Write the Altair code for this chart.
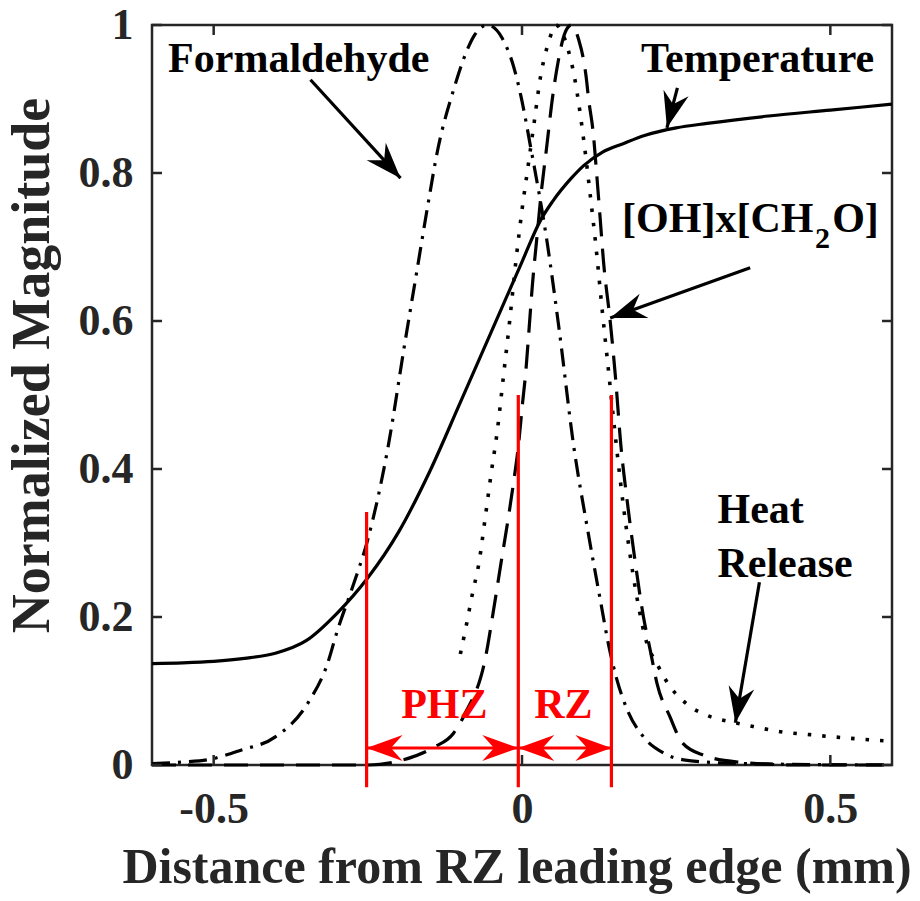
import math
import altair as alt
import pandas as pd

W, H = 740, 740
XDOM = [-0.6, 0.6]
YDOM = [0.0, 1.0]
FONT = "Liberation Serif"
AX = "#262626"

# ---------------- data ----------------
temp_x = [-0.6, -0.55, -0.5, -0.45, -0.4, -0.35, -0.3, -0.25, -0.2, -0.15, -0.1, -0.05,
          0.0, 0.03, 0.05, 0.08, 0.1, 0.13, 0.165, 0.2, 0.25, 0.3, 0.4, 0.5, 0.6]
temp_y = [0.137, 0.138, 0.140, 0.144, 0.151, 0.168, 0.205, 0.253, 0.315, 0.396, 0.49, 0.585,
          0.68, 0.736, 0.762, 0.793, 0.81, 0.828, 0.84, 0.851, 0.861, 0.867, 0.877, 0.885, 0.893]

form_x = [-0.6, -0.55, -0.51, -0.456, -0.4, -0.347, -0.315, -0.3, -0.275, -0.25, -0.218, -0.19,
          -0.17, -0.153, -0.137, -0.11, -0.091, -0.078, -0.056, -0.032, -0.014, -0.002, 0.014,
          0.041, 0.06, 0.084, 0.106, 0.127, 0.141, 0.154, 0.171, 0.197, 0.23, 0.262, 0.35, 0.6]
form_y = [0.002, 0.004, 0.007, 0.02, 0.038, 0.084, 0.138, 0.18, 0.24, 0.305, 0.426, 0.57,
          0.67, 0.755, 0.83, 0.915, 0.962, 0.985, 1.0, 0.982, 0.945, 0.905, 0.835,
          0.705, 0.59, 0.43, 0.32, 0.223, 0.16, 0.115, 0.074, 0.038, 0.016, 0.007, 0.002, 0.0]

heat_x = [-0.1, -0.09, -0.08, -0.07, -0.06, -0.05, -0.04, -0.03, -0.02, -0.01, 0.0, 0.01,
          0.02, 0.03, 0.04, 0.05, 0.055, 0.065, 0.075, 0.085, 0.09, 0.1, 0.11, 0.12, 0.13,
          0.14, 0.15, 0.16, 0.17, 0.18, 0.19, 0.2, 0.22, 0.24, 0.257, 0.276, 0.297, 0.346,
          0.375, 0.419, 0.467, 0.505, 0.549, 0.6]
heat_y = [0.15, 0.19, 0.233, 0.272, 0.332, 0.394, 0.452, 0.526, 0.60, 0.68, 0.75, 0.81,
          0.87, 0.93, 0.968, 0.993, 1.0, 0.99, 0.966, 0.93, 0.905, 0.845, 0.775, 0.70, 0.615,
          0.535, 0.455, 0.38, 0.315, 0.258, 0.21, 0.172, 0.135, 0.106, 0.09, 0.077, 0.068, 0.057,
          0.052, 0.045, 0.041, 0.038, 0.035, 0.032]

oh_x = [-0.6, -0.25, -0.192, -0.143, -0.111, -0.092, -0.059, -0.046, -0.035, -0.022, -0.014,
        -0.006, 0.001, 0.006, 0.011, 0.017, 0.025, 0.03, 0.04, 0.05, 0.057, 0.07, 0.08, 0.092,
        0.104, 0.108, 0.116, 0.12, 0.124, 0.127, 0.132, 0.143, 0.152, 0.16, 0.171, 0.181,
        0.197, 0.208, 0.219, 0.24, 0.26, 0.295, 0.35, 0.45, 0.6]
oh_y = [0.0, 0.0, 0.007, 0.024, 0.043, 0.07, 0.146, 0.21, 0.268, 0.335, 0.38,
        0.43, 0.49, 0.53, 0.584, 0.65, 0.72, 0.764, 0.835, 0.905, 0.943, 0.99, 1.0, 0.98,
        0.93, 0.9, 0.85, 0.81, 0.768, 0.736, 0.682, 0.6, 0.52, 0.435, 0.354, 0.29,
        0.2, 0.155, 0.11, 0.065, 0.03, 0.013, 0.004, 0.0, 0.0]

x_ticks = [-0.5, 0.0, 0.5]
y_ticks = [0.0, 0.2, 0.4, 0.6, 0.8, 1.0]

# zone boundaries (red lines)
zone_x = [-0.252, -0.006, 0.145]
zone_top = [0.342, 0.5, 0.5]
zone_bottom = -0.03
zone_arrow_y = 0.023
zone_names = ["PHZ", "RZ"]
zone_label_x = [-0.126, 0.067]
zone_label_y = 0.064

# black annotation arrows: start -> tip
arr_x0 = [-0.343, 0.252, 0.370, 0.385]
arr_y0 = [0.926, 0.915, 0.672, 0.247]
arr_x1 = [-0.197, 0.235, 0.143, 0.346]
arr_y1 = [0.793, 0.861, 0.604, 0.057]

# annotation texts
txt_center = ["Formaldehyde", "Temperature"]
txt_center_x = [-0.362, 0.382]
txt_center_y = [0.936, 0.936]
txt_left = ["Heat", "Release"]
txt_left_x = [0.317, 0.317]
txt_left_y = [0.327, 0.254]
oh_parts = ["[OH]x[CH", "2", "O]"]
oh_parts_x = [0.4725, 0.475, 0.503]
oh_parts_y = [0.720, 0.699, 0.720]

# ---------------- encodings ----------------
x_sc = alt.Scale(domain=XDOM, nice=False, zero=False)
y_sc = alt.Scale(domain=YDOM, nice=False, zero=False)

x_axis = alt.Axis(values=x_ticks, ticks=False, tickSize=0, domain=False, grid=False,
                  labelFont=FONT, labelFontWeight="bold", labelFontSize=44, labelColor=AX,
                  labelPadding=22, labelFlush=False, labelOverlap=False,
                  labelExpr="datum.value < 0 ? '-' + format(-datum.value, '~g') : format(datum.value, '~g')",
                  title="Distance from RZ leading edge (mm)", titleFont=FONT, titleFontSize=50,
                  titleFontWeight="bold", titleColor=AX, titleX=364.5, titleY=117,
                  titleAlign="center", titleBaseline="alphabetic")
y_axis = alt.Axis(values=y_ticks, ticks=False, tickSize=0, domain=False, grid=False,
                  labelFont=FONT, labelFontWeight="bold", labelFontSize=44, labelColor=AX,
                  labelPadding=19, labelFlush=False, labelOverlap=False,
                  labelExpr="format(datum.value, '~g')",
                  title="Normalized Magnitude", titleFont=FONT, titleFontSize=54,
                  titleFontWeight="bold", titleColor=AX, titleAngle=270, titleX=-120, titleY=340,
                  titleAlign="center", titleBaseline="middle")


def X(f="x"):
    return alt.X(f + ":Q", scale=x_sc, axis=x_axis)


def Y(f="y"):
    return alt.Y(f + ":Q", scale=y_sc, axis=y_axis)


def curve(xs, ys, dash=None, width=3.2):
    df = pd.DataFrame({"x": xs, "y": ys})
    kw = dict(color="black", strokeWidth=width, clip=False, interpolate="monotone")
    if dash:
        kw["strokeDash"] = dash
    return alt.Chart(df).mark_line(**kw).encode(x=X(), y=Y())


layers = []
layers.append(curve(temp_x, temp_y))
layers.append(curve(form_x, form_y, [18, 8, 3, 8]))
layers.append(curve(oh_x, oh_y, [24, 12]))
layers.append(curve(heat_x, heat_y, [3.5, 11], width=3.6))

# tick marks (inward) on all four sides
xt = pd.DataFrame({"x": x_ticks})
yt = pd.DataFrame({"y": y_ticks})
tick_kw = dict(color=AX, strokeWidth=2.5)
layers.append(alt.Chart(xt).mark_rule(**tick_kw).encode(x=X(), y=alt.value(H), y2=alt.value(H - 10)))
layers.append(alt.Chart(xt).mark_rule(**tick_kw).encode(x=X(), y=alt.value(0), y2=alt.value(10)))
layers.append(alt.Chart(yt).mark_rule(**tick_kw).encode(y=Y(), x=alt.value(0), x2=alt.value(10)))
layers.append(alt.Chart(yt).mark_rule(**tick_kw).encode(y=Y(), x=alt.value(W), x2=alt.value(W - 10)))

# red zone lines
zl = pd.DataFrame({"x": zone_x, "y": [zone_bottom] * 3, "y2": zone_top})
layers.append(alt.Chart(zl).mark_rule(color="#ff0000", strokeWidth=3.2).encode(
    x=X(), y=Y(), y2=alt.Y2("y2:Q")))

# red double arrows
za = pd.DataFrame({"x": zone_x[:2], "x2": zone_x[1:], "y": [zone_arrow_y] * 2})
layers.append(alt.Chart(za).mark_rule(color="#ff0000", strokeWidth=3.2).encode(
    x=X(), x2=alt.X2("x2:Q"), y=Y()))

HEAD = "M0,0 L-2,-0.72 L-1.35,0 L-2,0.72 Z"
HEAD_SIZE = 1296

zh = pd.DataFrame({"x": [zone_x[0], zone_x[1], zone_x[1], zone_x[2]],
                   "y": [zone_arrow_y] * 4,
                   "angle": [180, 0, 180, 0]})
layers.append(alt.Chart(zh).mark_point(shape=HEAD, size=HEAD_SIZE, filled=True, opacity=1,
                                       color="#ff0000", strokeWidth=0).encode(
    x=X(), y=Y(), angle=alt.Angle("angle:Q", scale=None)))

# black annotation arrows
px_x = W / (XDOM[1] - XDOM[0])
px_y = H / (YDOM[1] - YDOM[0])
angles = []
for a, b, c, d in zip(arr_x0, arr_y0, arr_x1, arr_y1):
    dx = (c - a) * px_x
    dy = -(d - b) * px_y
    angles.append(math.degrees(math.atan2(dy, dx)) % 360)
ab = pd.DataFrame({"x": arr_x0, "y": arr_y0, "x2": arr_x1, "y2": arr_y1, "angle": angles})
layers.append(alt.Chart(ab).mark_rule(color="black", strokeWidth=3.2).encode(
    x=X(), y=Y(), x2=alt.X2("x2:Q"), y2=alt.Y2("y2:Q")))
layers.append(alt.Chart(ab).mark_point(shape=HEAD, size=HEAD_SIZE, filled=True, opacity=1,
                                       color="black", strokeWidth=0).encode(
    x=alt.X("x2:Q", scale=x_sc, axis=x_axis), y=alt.Y("y2:Q", scale=y_sc, axis=y_axis),
    angle=alt.Angle("angle:Q", scale=None)))

# texts
tkw = dict(font=FONT, fontWeight="bold", fontSize=42, color="black", baseline="alphabetic")
tc = pd.DataFrame({"x": txt_center_x, "y": txt_center_y, "t": txt_center})
layers.append(alt.Chart(tc).mark_text(align="center", **tkw).encode(x=X(), y=Y(), text="t:N"))
tl = pd.DataFrame({"x": txt_left_x, "y": txt_left_y, "t": txt_left})
layers.append(alt.Chart(tl).mark_text(align="left", **tkw).encode(x=X(), y=Y(), text="t:N"))
o1 = pd.DataFrame({"x": oh_parts_x[:1], "y": oh_parts_y[:1], "t": oh_parts[:1]})
layers.append(alt.Chart(o1).mark_text(align="right", **tkw).encode(x=X(), y=Y(), text="t:N"))
o3 = pd.DataFrame({"x": oh_parts_x[2:], "y": oh_parts_y[2:], "t": oh_parts[2:]})
layers.append(alt.Chart(o3).mark_text(align="left", **tkw).encode(x=X(), y=Y(), text="t:N"))
o2 = pd.DataFrame({"x": oh_parts_x[1:2], "y": oh_parts_y[1:2], "t": oh_parts[1:2]})
skw = dict(tkw)
skw["fontSize"] = 30
layers.append(alt.Chart(o2).mark_text(align="left", **skw).encode(x=X(), y=Y(), text="t:N"))

zt = pd.DataFrame({"x": zone_label_x, "y": [zone_label_y] * 2, "t": zone_names})
rkw = dict(tkw)
rkw["color"] = "#ff0000"
layers.append(alt.Chart(zt).mark_text(align="center", **rkw).encode(x=X(), y=Y(), text="t:N"))

chart = alt.layer(*layers).properties(
    width=W, height=H,
    autosize=alt.AutoSizeParams(type="none"),
    padding={"left": 152, "top": 25, "right": 28, "bottom": 136},
    background="white",
).configure_view(stroke=AX, strokeWidth=2.5)

chart.save("out.html", embed_options={"renderer": "svg", "actions": False})
